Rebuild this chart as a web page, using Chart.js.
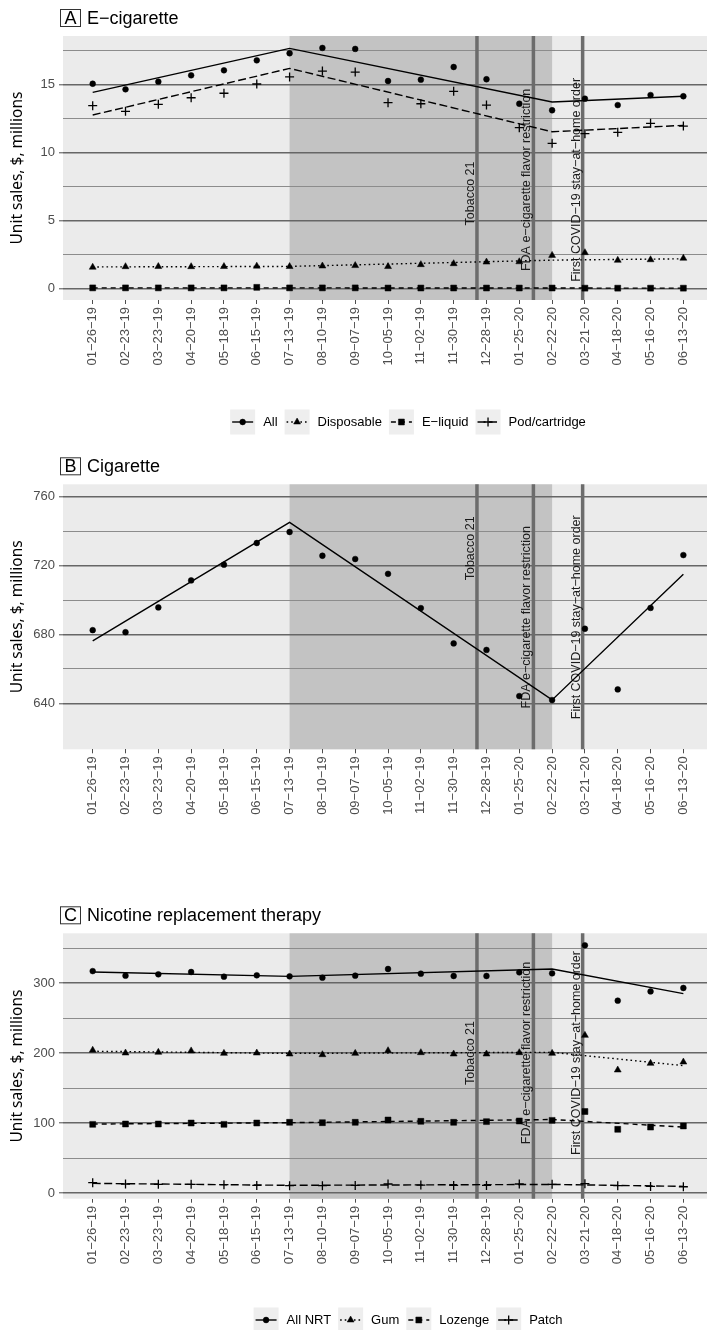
<!DOCTYPE html>
<html lang="en">
<head>
  <meta charset="UTF-8" />
  <title>Unit sales</title>
  <script src="https://cdn.jsdelivr.net/npm/chart.js@4.4.1/dist/chart.umd.min.js"></script>
  <style>
    body {
      margin: 0;
      background: #fff;
      width: 707px;
      height: 1330px;
      position: relative;
      overflow: hidden;
    }
    canvas {
      position: absolute;
      left: 0;
    }
  </style>
</head>
<body>
  <canvas id="chartA" width="707" height="440" style="top:0px"></canvas>
  <canvas id="chartB" width="707" height="440" style="top:440px"></canvas>
  <canvas id="chartC" width="707" height="450" style="top:880px"></canvas>

  <script>
    // 4-week periods
    const dates = ['01-26-19', '02-23-19', '03-23-19', '04-20-19', '05-18-19', '06-15-19', '07-13-19',
      '08-10-19', '09-07-19', '10-05-19', '11-02-19', '11-30-19', '12-28-19', '01-25-20', '02-22-20',
      '03-21-20', '04-18-20', '05-16-20', '06-13-20'];
    // breakpoints of the fitted segments (period index)
    const trendIdx = [0, 6, 14, 18];
    const shadeFrom = 6;
    const shadeTo = 14;
    // policy events, position in period units
    const eventX = [11.71, 13.43, 14.93];
    const eventLabels = ['Tobacco 21', 'FDA e\u2212cigarette flavor restriction', 'First COVID\u221219 stay\u2212at\u2212home order'];

    // A: e-cigarette
    const ecigAll = [15.07, 14.66, 15.22, 15.69, 16.06, 16.79, 17.31, 17.7, 17.63, 15.27, 15.37, 16.3, 15.4, 13.6, 13.12, 13.97, 13.5, 14.24, 14.15];
    const ecigDisposable = [1.58, 1.62, 1.63, 1.62, 1.63, 1.66, 1.63, 1.67, 1.7, 1.63, 1.77, 1.84, 1.96, 1.98, 2.45, 2.65, 2.09, 2.13, 2.24];
    const ecigLiquid = [0.06, 0.06, 0.06, 0.06, 0.06, 0.1, 0.06, 0.06, 0.06, 0.05, 0.05, 0.05, 0.05, 0.05, 0.05, 0.04, 0.04, 0.04, 0.04];
    const ecigPod = [13.46, 13.04, 13.56, 14.04, 14.37, 15.05, 15.57, 16.0, 15.93, 13.68, 13.6, 14.51, 13.5, 11.84, 10.69, 11.4, 11.5, 12.16, 11.96];
    const ecigAllTrend = [14.44, 17.67, 13.73, 14.15];
    const ecigDisposableTrend = [1.6, 1.64, 2.1, 2.2];
    const ecigLiquidTrend = [0.06, 0.06, 0.05, 0.04];
    const ecigPodTrend = [12.77, 16.2, 11.54, 12.01];
    const ecigTicks = [0, 5, 10, 15];

    // B: cigarette
    const cigAll = [682.5, 681.3, 695.7, 711.4, 720.5, 733.1, 739.5, 725.7, 723.8, 715.2, 695.3, 674.8, 671.0, 644.2, 641.9, 683.3, 648.1, 695.4, 726.1];
    const cigAllTrend = [676.3, 745.1, 642.0, 714.9];
    const cigTicks = [640, 680, 720, 760];

    // C: nicotine replacement therapy
    const nrtAll = [317, 310.5, 312.4, 315.7, 309, 311, 309.5, 307.6, 310.5, 320, 313.3, 310, 310, 315.2, 313.8, 353.8, 274.8, 288, 292.9];
    const nrtGum = [204, 200, 201, 203, 199.5, 200, 198.6, 197.6, 199.5, 203.3, 200.5, 198.6, 198.6, 200.5, 199.5, 225.2, 175.7, 185.2, 187.1];
    const nrtLozenge = [98.1, 98.6, 98.6, 100, 98.1, 100, 101, 100.5, 101, 104.3, 102.4, 101, 102, 102.9, 103.8, 116.4, 91, 94.2, 95.8];
    const nrtPatch = [14.8, 12.9, 12.4, 12.4, 11.9, 10.9, 10.5, 10.5, 10.9, 12.9, 11.4, 10.9, 10.9, 12.9, 12.4, 13.3, 10.5, 9.5, 9.0];
    const nrtAllTrend = [315.7, 309.5, 320, 284.8];
    const nrtGumTrend = [202.5, 199.5, 201, 182];
    const nrtLozengeTrend = [98.5, 100.5, 105, 94.2];
    const nrtPatchTrend = [13.8, 11, 12.3, 9.5];
    const nrtTicks = [0, 100, 200, 300];

    const dashes = { solid: [], dotted: [1.6, 3], dashed: [5, 4], longdash: [8, 3.5] };
    const pointSizes = { circle: 2.9, triangle: 4, rect: 4.2, cross: 4.5 };
    const minus = s => s.replace(/-/g, '\u2212');

    // ggplot style panel: grey background, shaded period, event lines
    const panelBg = {
      id: 'panelBg',
      beforeDraw(chart) {
        const { ctx, chartArea: a, scales: { x } } = chart;
        ctx.save();
        ctx.fillStyle = '#ebebeb';
        ctx.fillRect(a.left, a.top, a.width, a.height);
        const x0 = x.getPixelForValue(shadeFrom);
        const x1 = x.getPixelForValue(shadeTo);
        ctx.fillStyle = '#c3c3c3';
        ctx.fillRect(x0, a.top, x1 - x0, a.height);
        ctx.restore();
      },
      beforeDatasetsDraw(chart, args, opts) {
        const { ctx, chartArea: a, scales: { x, y } } = chart;
        ctx.save();
        ctx.strokeStyle = '#6c6c6c';
        ctx.lineWidth = 3.5;
        eventX.forEach(v => {
          const px = x.getPixelForValue(v);
          ctx.beginPath();
          ctx.moveTo(px, a.top);
          ctx.lineTo(px, a.bottom);
          ctx.stroke();
        });
        ctx.fillStyle = '#1a1a1a';
        ctx.font = '12.5px "Liberation Sans", Arial, sans-serif';
        ctx.textAlign = 'center';
        ctx.textBaseline = 'alphabetic';
        eventX.forEach((v, i) => {
          ctx.save();
          ctx.translate(x.getPixelForValue(v) - 3, y.getPixelForValue(opts.textY[i]));
          ctx.rotate(-Math.PI / 2);
          ctx.fillText(eventLabels[i], 0, 0);
          ctx.restore();
        });
        ctx.restore();
      },
      afterDraw(chart, args, opts) {
        const { ctx, chartArea: a } = chart;
        ctx.save();
        // boxed panel letter + title
        ctx.strokeStyle = '#333';
        ctx.lineWidth = 1;
        ctx.strokeRect(60.5, a.top - 26.5, 20, 17);
        ctx.fillStyle = '#000';
        ctx.font = '18px "Liberation Sans", Arial, sans-serif';
        ctx.textAlign = 'center';
        ctx.textBaseline = 'alphabetic';
        ctx.fillText(opts.letter, 70.5, a.top - 12);
        ctx.textAlign = 'left';
        ctx.fillText(opts.title, 87, a.top - 12);

        // legend with grey keys
        if (opts.legendY) {
          ctx.font = '13px "Liberation Sans", Arial, sans-serif';
          const items = opts.series;
          const widths = items.map(s => ctx.measureText(s.label).width);
          const total = items.length * 33 + widths.reduce((p, c) => p + c, 0) + (items.length - 1) * 7;
          let lx = 408 - total / 2;
          const ly = opts.legendY;
          items.forEach((s, i) => {
            ctx.fillStyle = '#eeeeee';
            ctx.fillRect(lx, ly - 12.5, 25, 25);
            ctx.strokeStyle = '#000';
            ctx.lineWidth = 1.4;
            ctx.setLineDash(dashes[s.line]);
            ctx.beginPath();
            ctx.moveTo(lx + 2, ly);
            ctx.lineTo(lx + 23, ly);
            ctx.stroke();
            ctx.setLineDash([]);
            ctx.fillStyle = '#000';
            ctx.lineWidth = s.point === 'cross' ? 1.3 : 0.5;
            Chart.helpers.drawPoint(ctx, { pointStyle: s.point, radius: pointSizes[s.point], borderWidth: ctx.lineWidth, rotation: 0 }, lx + 12.5, ly);
            ctx.fillStyle = '#000';
            ctx.textBaseline = 'middle';
            ctx.fillText(s.label, lx + 33, ly + 0.5);
            lx += 33 + widths[i] + 7;
          });
        }
        ctx.restore();
      }
    };

    function buildChart(id, panel) {
      const datasets = [];
      panel.series.forEach(s => {
        datasets.push({
          data: s.trend.map((v, i) => ({ x: trendIdx[i], y: v })),
          borderColor: '#000',
          borderWidth: 1.4,
          borderDash: dashes[s.line],
          pointRadius: 0,
          fill: false,
          tension: 0
        });
        datasets.push({
          data: s.values.map((v, i) => ({ x: i, y: v })),
          showLine: false,
          pointStyle: s.point,
          pointRadius: pointSizes[s.point],
          pointBackgroundColor: '#000',
          pointBorderColor: '#000',
          pointBorderWidth: s.point === 'cross' ? 1.3 : 0.5
        });
      });

      const step = panel.ticks[1] - panel.ticks[0];
      const yTicks = [];
      panel.ticks.forEach(v => { yTicks.push(v, v + step / 2); });
      const isMajor = v => panel.ticks.includes(v);

      new Chart(document.getElementById(id), {
        type: 'line',
        data: { datasets },
        plugins: [panelBg],
        options: {
          responsive: false,
          animation: false,
          events: [],
          layout: {
            autoPadding: false,
            padding: { top: panel.padTop, bottom: panel.padBottom, left: 0, right: 0 }
          },
          plugins: {
            legend: { display: false },
            tooltip: { enabled: false },
            panelBg: { letter: panel.letter, title: panel.title, textY: panel.textY, series: panel.series, legendY: panel.legendY }
          },
          scales: {
            x: {
              type: 'linear',
              min: -0.905,
              max: 18.72,
              afterBuildTicks: scale => { scale.ticks = dates.map((d, i) => ({ value: i })); },
              afterFit: scale => {
                scale.height = 90;
                scale.paddingLeft = 0;
                scale.paddingRight = 0;
              },
              border: { display: false },
              grid: { drawOnChartArea: false, tickLength: 4, tickColor: '#4d4d4d', tickWidth: 1 },
              ticks: {
                autoSkip: false,
                minRotation: 90,
                maxRotation: 90,
                padding: 3,
                color: '#4d4d4d',
                font: { family: '"Liberation Sans", Arial, sans-serif', size: 13 },
                callback: (v, i) => minus(dates[i])
              }
            },
            y: {
              min: panel.yMin,
              max: panel.yMax,
              afterBuildTicks: scale => { scale.ticks = yTicks.filter(v => v >= panel.yMin && v <= panel.yMax).map(v => ({ value: v })); },
              afterFit: scale => {
                scale.width = 63;
                scale.paddingTop = 0;
                scale.paddingBottom = 0;
              },
              border: { display: false },
              grid: {
                color: c => isMajor(c.tick.value) ? '#666666' : '#8c8c8c',
                lineWidth: c => isMajor(c.tick.value) ? 1.6 : 1,
                tickColor: c => isMajor(c.tick.value) ? '#4d4d4d' : 'rgba(0,0,0,0)',
                tickLength: 4,
                tickWidth: 1
              },
              ticks: {
                padding: 4,
                color: '#4d4d4d',
                font: { family: '"Liberation Sans", Arial, sans-serif', size: 13 },
                callback: v => isMajor(v) ? String(v) : ''
              },
              title: {
                display: true,
                text: 'Unit sales, $, millions',
                color: '#000',
                padding: { top: 8, bottom: 0 },
                font: { family: '"Noto Sans", sans-serif', size: 15.5 }
              }
            }
          }
        }
      });
    }

    buildChart('chartA', {
      letter: 'A', title: 'E\u2212cigarette',
      yMin: -0.83, yMax: 18.58, ticks: ecigTicks,
      padTop: 36, padBottom: 50, legendY: 422,
      textY: [7, 8, 8],
      series: [
        { label: 'All', values: ecigAll, trend: ecigAllTrend, point: 'circle', line: 'solid' },
        { label: 'Disposable', values: ecigDisposable, trend: ecigDisposableTrend, point: 'triangle', line: 'dotted' },
        { label: 'E\u2212liquid', values: ecigLiquid, trend: ecigLiquidTrend, point: 'rect', line: 'dashed' },
        { label: 'Pod/cartridge', values: ecigPod, trend: ecigPodTrend, point: 'cross', line: 'longdash' }
      ]
    });

    buildChart('chartB', {
      letter: 'B', title: 'Cigarette',
      yMin: 613.3, yMax: 767.2, ticks: cigTicks,
      padTop: 44.3, padBottom: 40.7, legendY: null,
      textY: [730, 690, 690],
      series: [
        { label: 'All', values: cigAll, trend: cigAllTrend, point: 'circle', line: 'solid' }
      ]
    });

    buildChart('chartC', {
      letter: 'C', title: 'Nicotine replacement therapy',
      yMin: -8.1, yMax: 371, ticks: nrtTicks,
      padTop: 53.3, padBottom: 41.3, legendY: 440,
      textY: [200, 200, 200],
      series: [
        { label: 'All NRT', values: nrtAll, trend: nrtAllTrend, point: 'circle', line: 'solid' },
        { label: 'Gum', values: nrtGum, trend: nrtGumTrend, point: 'triangle', line: 'dotted' },
        { label: 'Lozenge', values: nrtLozenge, trend: nrtLozengeTrend, point: 'rect', line: 'dashed' },
        { label: 'Patch', values: nrtPatch, trend: nrtPatchTrend, point: 'cross', line: 'longdash' }
      ]
    });
  </script>
</body>
</html>
